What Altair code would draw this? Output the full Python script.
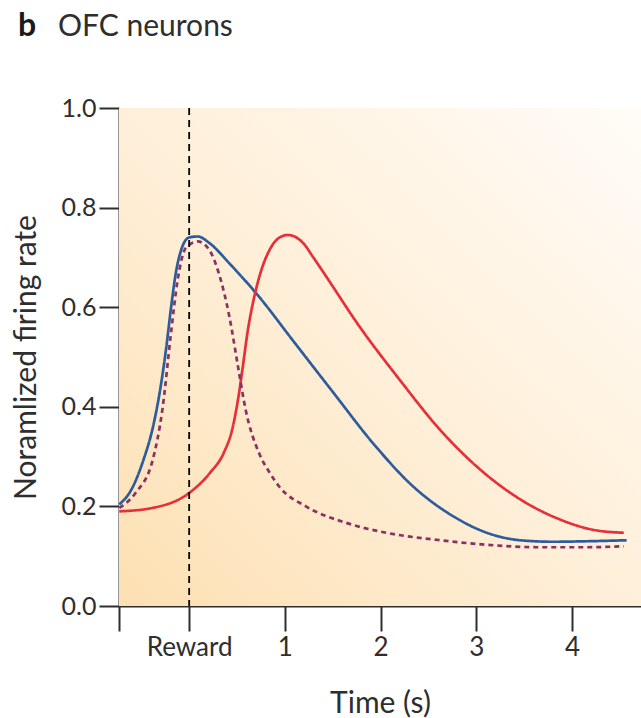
import altair as alt
import pandas as pd

# ---- data ----
blue_t = [-0.73, -0.60, -0.48, -0.38, -0.30, -0.24, -0.19, -0.14, -0.08, 0.0, 0.09, 0.21,
          0.42, 0.73, 1.08, 1.50, 1.92, 2.34, 2.76, 3.11, 3.46, 3.80, 4.15, 4.57]
blue_y = [0.204, 0.235, 0.292, 0.358, 0.438, 0.518, 0.598, 0.668, 0.717, 0.740, 0.742, 0.729,
          0.688, 0.621, 0.534, 0.430, 0.327, 0.240, 0.180, 0.147, 0.132, 0.129, 0.130, 0.132]

red_t = [-0.73, -0.38, 0.0, 0.22, 0.36, 0.45, 0.51, 0.56, 0.61, 0.67, 0.75, 0.84, 0.93, 1.03,
         1.19, 1.29, 1.43, 1.78, 2.20, 2.62, 3.04, 3.46, 3.87, 4.22, 4.54]
red_y = [0.190, 0.197, 0.227, 0.268, 0.307, 0.355, 0.414, 0.480, 0.550, 0.612, 0.672, 0.715,
         0.738, 0.745, 0.729, 0.702, 0.662, 0.561, 0.454, 0.354, 0.274, 0.214, 0.174, 0.153, 0.147]

dash_t = [-0.73, -0.56, -0.38, -0.28, -0.19, -0.12, -0.035, 0.09, 0.21, 0.31, 0.42, 0.51,
          0.59, 0.73, 0.84, 0.94, 1.22, 1.64, 2.06, 2.58, 3.11, 3.63, 4.15, 4.54]
dash_y = [0.197, 0.227, 0.294, 0.394, 0.548, 0.655, 0.719, 0.732, 0.715, 0.668, 0.581, 0.481,
          0.394, 0.307, 0.268, 0.240, 0.200, 0.167, 0.147, 0.133, 0.123, 0.118, 0.118, 0.120]

series_names = ["dashed", "red", "blue"]
series_colors = ["#8a3062", "#e5303a", "#2c5c9c"]
series_dash = [[5, 4], [1, 0], [1, 0]]

x_ticks = [-0.733, 0, 1, 2, 3, 4]
y_ticks = [0.0, 0.2, 0.4, 0.6, 0.8, 1.0]
x_domain = [-0.733, 4.72]
reward_t = [0.0]

W, H = 522, 498
FONT = "Lato"
TXT = "#2e2e2e"

rows = []
for name, ts, ys in [("blue", blue_t, blue_y), ("red", red_t, red_y), ("dashed", dash_t, dash_y)]:
    for t, y in zip(ts, ys):
        rows.append({"series": name, "t": t, "rate": y})
df = pd.DataFrame(rows)

gradient = alt.Gradient(
    gradient="linear",
    x1=0, y1=1, x2=1, y2=0,
    stops=[
        alt.GradientStop(color="#fde0b2", offset=0),
        alt.GradientStop(color="#feeed6", offset=0.45),
        alt.GradientStop(color="#fffcf7", offset=1),
    ],
)

bg = alt.Chart(pd.DataFrame({"k": [0]})).mark_rect(fill=gradient).encode(
    x=alt.value(0), x2=alt.value(W), y=alt.value(0), y2=alt.value(H)
)

xscale = alt.Scale(domain=x_domain, nice=False, zero=False)
yscale = alt.Scale(domain=[0, 1], nice=False, zero=False)

lines = alt.Chart(df).mark_line(strokeWidth=2.7, interpolate="monotone").encode(
    x=alt.X(
        "t:Q",
        scale=xscale,
        axis=alt.Axis(
            values=x_ticks,
            format=".0f",
            labelExpr="datum.value < -0.5 ? '' : (datum.value == 0 ? 'Reward' : datum.label)",
            title="Time (s)",
            titleFontSize=30,
            titleY=106,
            titleBaseline="alphabetic",
            tickSize=25,
            labelPadding=3,
            labelFontSize=26,
            labelFlush=False,
        ),
    ),
    y=alt.Y(
        "rate:Q",
        scale=yscale,
        axis=alt.Axis(
            values=y_ticks,
            format=".1f",
            title="Noramlized firing rate",
            titleFontSize=30,
            titleX=-84,
            titleBaseline="alphabetic",
            tickSize=20,
            labelPadding=3,
            labelFontSize=25,
            labelFlush=False,
        ),
    ),
    color=alt.Color("series:N", scale=alt.Scale(domain=series_names, range=series_colors), legend=None),
    strokeDash=alt.StrokeDash("series:N", scale=alt.Scale(domain=series_names, range=series_dash), legend=None),
)

rule = alt.Chart(pd.DataFrame({"t": reward_t})).mark_rule(
    color="black", strokeDash=[7, 5], strokeWidth=1.8
).encode(x=alt.X("t:Q", scale=xscale))

panel_letter = alt.Chart(pd.DataFrame({"s": ["b"]})).mark_text(
    font=FONT, fontSize=32, fontWeight="bold", color="#1a1a1a", align="left", baseline="alphabetic"
).encode(text="s:N", x=alt.value(-101), y=alt.value(-72))

panel_title = alt.Chart(pd.DataFrame({"s": ["OFC neurons"]})).mark_text(
    font=FONT, fontSize=30, color=TXT, align="left", baseline="alphabetic"
).encode(text="s:N", x=alt.value(-61), y=alt.value(-72))

chart = alt.layer(bg, lines, rule, panel_letter, panel_title).properties(
    width=W,
    height=H,
    autosize=alt.AutoSizeParams(type="none"),
    padding={"left": 119, "top": 108, "right": 0, "bottom": 112},
    background="white",
).configure_view(stroke=None).configure_axis(
    grid=False,
    domainColor=TXT,
    domainWidth=2,
    tickColor=TXT,
    tickWidth=2,
    labelColor=TXT,
    labelFont=FONT,
    titleFont=FONT,
    titleColor=TXT,
    titleFontWeight="normal",
)

chart.save("out.html", embed_options={"renderer": "svg", "actions": False})
